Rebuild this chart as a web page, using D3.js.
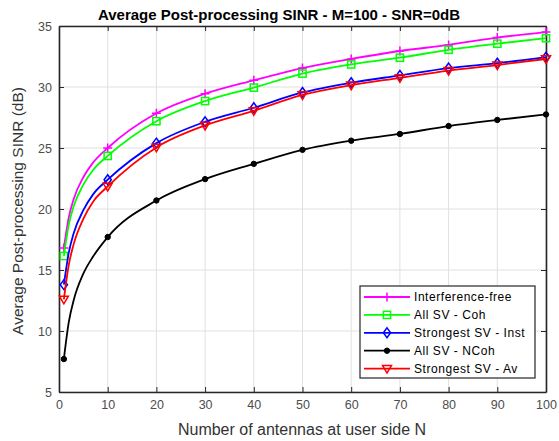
<!DOCTYPE html>
<html><head><meta charset="utf-8">
<script src="https://cdn.jsdelivr.net/npm/d3@7"></script>
<style>body{margin:0;background:#fff}svg{display:block;font-family:"Liberation Sans",Arial,sans-serif}</style>
</head><body><svg id="c" width="559" height="441"></svg>
<script>
// x positions (N) where values were read
const nValues = [1, 2, 3, 5, 7, 10, 20, 30, 40, 50, 60, 70, 80, 90, 100];
const markerN = [1, 10, 20, 30, 40, 50, 60, 70, 80, 90, 100];
const interferenceFree = [16.8, 19.3, 20.8, 22.6, 23.8, 25.0, 27.85, 29.45, 30.55, 31.55, 32.3, 32.95, 33.45, 34.05, 34.5];
const allSvCoh        = [16.15, 18.7, 20.2, 22.0, 23.2, 24.35, 27.2, 28.85, 29.95, 31.1, 31.85, 32.4, 33.05, 33.55, 34.0];
const strongestInst   = [13.8, 16.4, 18.0, 19.9, 21.2, 22.4, 25.4, 27.15, 28.3, 29.55, 30.35, 30.95, 31.55, 31.95, 32.45];
const allSvNCoh       = [7.7, 10.7, 12.5, 14.7, 16.1, 17.7, 20.7, 22.45, 23.7, 24.85, 25.6, 26.15, 26.8, 27.3, 27.75];
const strongestAv     = [12.6, 15.4, 17.1, 19.2, 20.6, 21.85, 25.05, 26.85, 28.05, 29.35, 30.15, 30.75, 31.35, 31.8, 32.3];
const seriesNames = ["Interference-free", "All SV - Coh", "Strongest SV - Inst", "All SV - NCoh", "Strongest SV - Av"];
const xTicks = [0, 10, 20, 30, 40, 50, 60, 70, 80, 90, 100];
const yTicks = [5, 10, 15, 20, 25, 30, 35];
const titleText = "Average Post-processing SINR - M=100 - SNR=0dB";
const xLabel = "Number of antennas at user side N";
const yLabel = "Average Post-processing SINR (dB)";

const series = [
  {name: seriesNames[0], vals: interferenceFree, color: "#ff00ff", marker: "plus"},
  {name: seriesNames[1], vals: allSvCoh, color: "#00ff00", marker: "square"},
  {name: seriesNames[2], vals: strongestInst, color: "#0000ff", marker: "diamond"},
  {name: seriesNames[3], vals: allSvNCoh, color: "#000000", marker: "circle"},
  {name: seriesNames[4], vals: strongestAv, color: "#ff0000", marker: "triangle"}
];

const svg = d3.select("#c");
const L = 59, R = 546, T = 26, B = 392;
const x = d3.scaleLinear().domain([0, 100]).range([L, R]);
const y = d3.scaleLinear().domain([5, 35]).range([B, T]);
const axisColor = "#262626";

// grid
const g = svg.append("g");
g.selectAll(".gx").data(xTicks).join("line")
  .attr("x1", d => x(d)).attr("x2", d => x(d)).attr("y1", T).attr("y2", B)
  .attr("stroke", "#e0e0e0").attr("stroke-width", 1);
g.selectAll(".gy").data(yTicks).join("line")
  .attr("x1", L).attr("x2", R).attr("y1", d => y(d)).attr("y2", d => y(d))
  .attr("stroke", "#e0e0e0").attr("stroke-width", 1);

// axes
const xAxis = d3.axisBottom(x).tickValues(xTicks).tickSizeInner(-5).tickSizeOuter(0).tickPadding(8);
const yAxis = d3.axisLeft(y).tickValues(yTicks).tickSizeInner(-5).tickSizeOuter(0).tickPadding(7);
const xa = svg.append("g").attr("transform", `translate(0,${B})`).call(xAxis);
const ya = svg.append("g").attr("transform", `translate(${L},0)`).call(yAxis);
const xt = svg.append("g").attr("transform", `translate(0,${T})`).call(d3.axisTop(x).tickValues(xTicks).tickSizeInner(-5).tickSizeOuter(0).tickFormat(""));
const yr = svg.append("g").attr("transform", `translate(${R},0)`).call(d3.axisRight(y).tickValues(yTicks).tickSizeInner(-5).tickSizeOuter(0).tickFormat(""));
[xa, ya, xt, yr].forEach(a => {
  a.select(".domain").attr("stroke", axisColor).attr("stroke-width", 1.6);
  a.selectAll(".tick line").attr("stroke", axisColor).attr("stroke-width", 1);
  a.selectAll(".tick text").attr("fill", "#4d4d4d").attr("font-size", 12.5).attr("font-family", "Liberation Sans, Arial, sans-serif");
});

// lines
const line = d3.line().x(d => x(d[0])).y(d => y(d[1])).curve(d3.curveMonotoneX);
function drawMarker(sel, type, color, size) {
  const s = size;
  if (type === "plus") {
    sel.append("path").attr("d", `M${-s},0H${s}M0,${-s}V${s}`).attr("stroke", color).attr("stroke-width", 1.5).attr("fill", "none");
  } else if (type === "square") {
    sel.append("rect").attr("x", -s*0.8).attr("y", -s*0.8).attr("width", s*1.6).attr("height", s*1.6).attr("stroke", color).attr("stroke-width", 1.5).attr("fill", "none");
  } else if (type === "diamond") {
    sel.append("path").attr("d", `M0,${-s*1.1}L${s*0.8},0L0,${s*1.1}L${-s*0.8},0Z`).attr("stroke", color).attr("stroke-width", 1.5).attr("fill", "none");
  } else if (type === "circle") {
    sel.append("circle").attr("r", s*0.6).attr("fill", color).attr("stroke", color);
  } else if (type === "triangle") {
    sel.append("path").attr("d", `M${-s},${-s*0.7}L${s},${-s*0.7}L0,${s*1.0}Z`).attr("stroke", color).attr("stroke-width", 1.5).attr("fill", "none");
  }
}
series.forEach(s => {
  const pts = nValues.map((n, i) => [n, s.vals[i]]);
  svg.append("path").datum(pts).attr("d", line).attr("fill", "none").attr("stroke", s.color).attr("stroke-width", 1.8);
  pts.filter(p => markerN.includes(p[0])).forEach(p => {
    const mg = svg.append("g").attr("transform", `translate(${x(p[0])},${y(p[1])})`);
    drawMarker(mg, s.marker, s.color, 4.5);
  });
});

// title and labels
svg.append("text").attr("x", 279).attr("y", 20).attr("text-anchor", "middle").attr("font-size", 15).attr("font-weight", "bold").attr("fill", "#000").text(titleText);
svg.append("text").attr("x", 302).attr("y", 435).attr("text-anchor", "middle").attr("font-size", 16).attr("fill", "#333").text(xLabel);
svg.append("text").attr("transform", `translate(23,${(T + B) / 2 + 2}) rotate(-90)`).attr("text-anchor", "middle").attr("font-size", 15.5).attr("fill", "#333").text(yLabel);

// legend
const lg = svg.append("g");
lg.append("rect").attr("x", 360).attr("y", 286).attr("width", 175).attr("height", 92).attr("fill", "#fff").attr("stroke", axisColor).attr("stroke-width", 1.2);
series.forEach((s, i) => {
  const yy = 297 + i * 17.9;
  lg.append("line").attr("x1", 364).attr("x2", 410).attr("y1", yy).attr("y2", yy).attr("stroke", s.color).attr("stroke-width", 1.8);
  const mg = lg.append("g").attr("transform", `translate(387,${yy})`);
  drawMarker(mg, s.marker, s.color, 4.5);
  lg.append("text").attr("x", 414).attr("y", yy + 4).attr("font-size", 12).attr("letter-spacing", 0.55).attr("fill", "#000").text(s.name);
});
</script></body></html>
